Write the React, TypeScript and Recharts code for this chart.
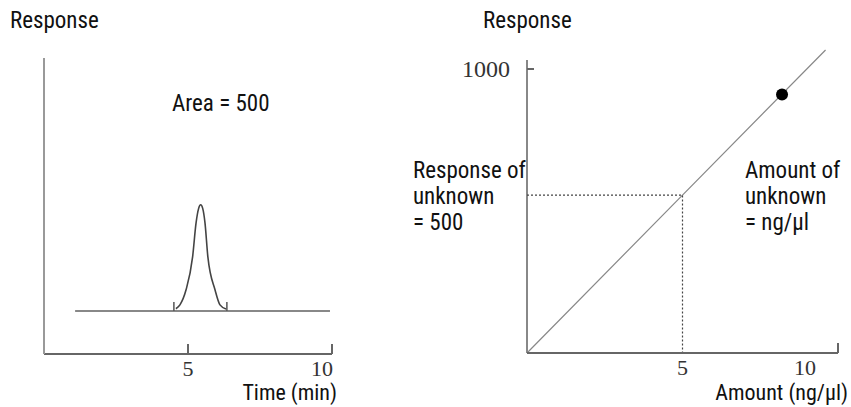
import React from 'react';
import { ComposedChart, Line, Scatter, XAxis, YAxis, ReferenceLine } from 'recharts';

// left panel: chromatogram (time in min, response in % of axis height)
const timeTicks = [5, 10];
const baselineData = [
  { t: 1.08, r: 14.5 },
  { t: 9.93, r: 14.5 },
];
const peakData = [
  { t: 4.58, r: 15.3 },
  { t: 4.72, r: 16.6 },
  { t: 4.93, r: 21.6 },
  { t: 5.16, r: 32.8 },
  { t: 5.28, r: 44.3 },
  { t: 5.37, r: 49.2 },
  { t: 5.44, r: 50.4 },
  { t: 5.51, r: 49.2 },
  { t: 5.59, r: 44.3 },
  { t: 5.69, r: 32.8 },
  { t: 5.94, r: 21.6 },
  { t: 6.11, r: 16.6 },
  { t: 6.32, r: 15.2 },
];
const peakStartMark = [
  { t: 4.51, r: 14.5 },
  { t: 4.51, r: 17.6 },
];
const peakEndMark = [
  { t: 6.35, r: 14.5 },
  { t: 6.35, r: 17.6 },
];

// right panel: calibration curve
const amountTicks = [5, 10];
const responseTicks = [1000];
const calibrationLine = [
  { amount: 0, response: 0 },
  { amount: 5, response: 556 },
  { amount: 9.6, response: 1067 },
];
const unknownGuide = [
  { amount: 0, response: 556 },
  { amount: 5, response: 556 },
  { amount: 5, response: 0 },
];
const standardPoint = [{ amount: 8.2, response: 910 }];

const SANS = "'Liberation Sans Narrow', 'Roboto Condensed', 'DejaVu Sans Condensed', 'DejaVu Sans', sans-serif";
const SERIF = "'Liberation Serif', 'DejaVu Serif', serif";
const TEXT = '#111';

function BottomTick(props: any) {
  const { x, y, payload, shifts, marks } = props;
  const v = payload.value;
  const shift = shifts[v] ?? 0;
  return (
    <g>
      {marks.includes(v) && (
        <line x1={x} y1={y} x2={x} y2={y - 10} stroke="#666" strokeWidth={2} />
      )}
      <text x={x + shift} y={y + 22} textAnchor="middle" fontFamily={SERIF} fontSize={22} fill="#333">
        {v}
      </text>
    </g>
  );
}

function LeftTick(props: any) {
  const { x, y, payload } = props;
  return (
    <g>
      <line x1={x} y1={y} x2={x + 7} y2={y} stroke="#666" strokeWidth={2} />
      <text x={x - 17} y={y + 8} textAnchor="end" fontFamily={SERIF} fontSize={24} fill="#333">
        {payload.value}
      </text>
    </g>
  );
}

const txt = { fontFamily: SANS, fontStretch: 'condensed' as const, fontSize: 23, fill: TEXT };

export default function App() {
  return (
    <div style={{ position: 'absolute', left: 0, top: 0, width: 851, height: 407, background: '#fff' }}>
      <div style={{ position: 'absolute', left: 0, top: 0 }}>
        <ComposedChart width={425} height={407} margin={{ top: 58, left: 14, right: 93, bottom: 23 }}>
          <XAxis
            type="number"
            dataKey="t"
            domain={[0, 10]}
            ticks={timeTicks}
            height={30}
            tickSize={0}
            tickMargin={0}
            tickLine={false}
            axisLine={{ stroke: '#666', strokeWidth: 2 }}
            tick={<BottomTick shifts={{ 10: -10 }} marks={[5, 10]} />}
          />
          <YAxis
            type="number"
            domain={[0, 100]}
            width={30}
            tick={false}
            tickLine={false}
            axisLine={{ stroke: '#999', strokeWidth: 2 }}
          />
          <Line data={baselineData} dataKey="r" type="linear" stroke="#888" strokeWidth={2} dot={false} isAnimationActive={false} />
          <Line data={peakStartMark} dataKey="r" type="linear" stroke="#555" strokeWidth={1.5} dot={false} isAnimationActive={false} />
          <Line data={peakEndMark} dataKey="r" type="linear" stroke="#555" strokeWidth={1.5} dot={false} isAnimationActive={false} />
          <Line data={peakData} dataKey="r" type="monotone" stroke="#444" strokeWidth={1.6} dot={false} isAnimationActive={false} />
        </ComposedChart>
      </div>
      <div style={{ position: 'absolute', left: 425, top: 0 }}>
        <ComposedChart width={426} height={407} margin={{ top: 50, left: 42, right: 13, bottom: 24 }}>
          <XAxis
            type="number"
            dataKey="amount"
            domain={[0, 10]}
            ticks={amountTicks}
            height={30}
            tickSize={0}
            tickMargin={0}
            tickLine={false}
            axisLine={{ stroke: '#666', strokeWidth: 2 }}
            tick={<BottomTick shifts={{ 10: -33 }} marks={[10]} />}
          />
          <YAxis
            type="number"
            domain={[0, 1067]}
            ticks={responseTicks}
            width={60}
            tickSize={0}
            tickMargin={0}
            tickLine={false}
            axisLine={false}
            tick={<LeftTick />}
          />
          <ReferenceLine segment={[{ x: 0, y: 0 }, { x: 0, y: 1032 }]} stroke="#888" strokeWidth={2} />
          <Line data={calibrationLine} dataKey="response" type="linear" stroke="#888" strokeWidth={1.2} dot={false} isAnimationActive={false} />
          <Line data={unknownGuide} dataKey="response" type="linear" stroke="#444" strokeWidth={1.2} strokeDasharray="2 2" dot={false} isAnimationActive={false} />
          <Scatter
            data={standardPoint}
            dataKey="response"
            isAnimationActive={false}
            shape={(p: any) => <circle cx={p.cx} cy={p.cy} r={6} fill="#000" />}
          />
        </ComposedChart>
      </div>
      <svg width={851} height={407} style={{ position: 'absolute', left: 0, top: 0, pointerEvents: 'none' }}>
        <text x={10} y={28} {...txt}>Response</text>
        <text x={483} y={28} {...txt}>Response</text>
        <text x={172} y={111} {...txt}>Area = 500</text>
        <text x={413} y={178} {...txt}>Response of</text>
        <text x={413} y={204} {...txt}>unknown</text>
        <text x={413} y={230} {...txt}>= 500</text>
        <text x={745} y={178} {...txt}>Amount of</text>
        <text x={745} y={204} {...txt}>unknown</text>
        <text x={745} y={230} {...txt}>= ng/µl</text>
        <text x={337} y={400} textAnchor="end" {...txt} fontSize={22}>Time (min)</text>
        <text x={848} y={400} textAnchor="end" {...txt} fontSize={22}>Amount (ng/µl)</text>
      </svg>
    </div>
  );
}
